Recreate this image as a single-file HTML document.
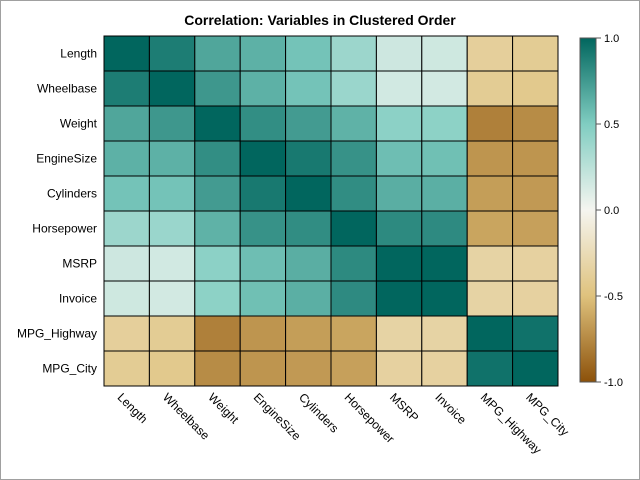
<!DOCTYPE html>
<html><head><meta charset="utf-8"><style>
body{margin:0;background:#fff;}
svg{display:block;font-family:"Liberation Sans",sans-serif;}
</style></head><body>
<svg id="chart" width="640" height="480">
<defs>
<linearGradient id="cgrad" x1="0" y1="1" x2="0" y2="0">
<stop offset="0" stop-color="#8c510a"/>
<stop offset="0.25" stop-color="#dfc27d"/>
<stop offset="0.5" stop-color="#f5f5f0"/>
<stop offset="0.75" stop-color="#80cdc1"/>
<stop offset="1" stop-color="#01665e"/>
</linearGradient>
</defs>
<rect x="0.5" y="0.5" width="639" height="479" fill="#fff" stroke="#a0a0a0"/>
<text x="320" y="25" text-anchor="middle" font-size="14" font-weight="bold">Correlation: Variables in Clustered Order</text>
<g id="cells"></g>
<g id="ylabels"></g>
<g id="xlabels"></g>
<rect x="580" y="38" width="16" height="344" fill="url(#cgrad)" stroke="#555"/>
<g id="legticks"></g>
</svg>
<script>
const vars=["Length","Wheelbase","Weight","EngineSize","Cylinders","Horsepower","MSRP","Invoice","MPG_Highway","MPG_City"];
const rowLength=[1,0.889,0.690,0.637,0.547,0.382,0.172,0.166,-0.37,-0.40];
const rowWheelbase=[0.889,1,0.761,0.637,0.547,0.387,0.152,0.148,-0.40,-0.43];
const rowWeight=[0.690,0.761,1,0.807,0.742,0.631,0.450,0.443,-0.79,-0.74];
const rowEngineSize=[0.637,0.637,0.807,1,0.908,0.787,0.572,0.564,-0.70,-0.70];
const rowCylinders=[0.547,0.547,0.742,0.908,1,0.811,0.649,0.645,-0.66,-0.68];
const rowHorsepower=[0.382,0.387,0.631,0.787,0.811,1,0.826,0.824,-0.63,-0.65];
const rowMSRP=[0.172,0.152,0.450,0.572,0.649,0.826,1,0.999,-0.33,-0.35];
const rowInvoice=[0.166,0.148,0.443,0.564,0.645,0.824,0.999,1,-0.33,-0.35];
const rowMPGHighway=[-0.37,-0.40,-0.79,-0.70,-0.66,-0.63,-0.33,-0.33,1,0.941];
const rowMPGCity=[-0.40,-0.43,-0.74,-0.70,-0.68,-0.65,-0.35,-0.35,0.941,1];
const matrix=[rowLength,rowWheelbase,rowWeight,rowEngineSize,rowCylinders,rowHorsepower,rowMSRP,rowInvoice,rowMPGHighway,rowMPGCity];
const legendTicks=[1.0,0.5,0.0,-0.5,-1.0];

const NS="http://www.w3.org/2000/svg";
const gx0=104,gx1=558,gy0=36,gy1=386;
const cw=(gx1-gx0)/vars.length,ch=(gy1-gy0)/vars.length;
const xPos=i=>gx0+i*cw, yPos=j=>gy0+j*ch;
const legY=v=>38+(1-v)/2*344;
const stops=[[-1,[140,81,10]],[-0.5,[223,194,125]],[0,[245,245,240]],[0.5,[128,205,193]],[1,[1,102,94]]];
function color(v){
 for(let k=0;k<stops.length-1;k++){
  const a=stops[k],b=stops[k+1];
  if(v<=b[0]){const t=(v-a[0])/(b[0]-a[0]);
   return "rgb("+a[1].map((c,i)=>Math.round(c+(b[1][i]-c)*t)).join(",")+")";}
 }
 return "rgb(1,102,94)";
}
function mk(tag,attrs,parent){const e=document.createElementNS(NS,tag);for(const k in attrs)e.setAttribute(k,attrs[k]);parent.appendChild(e);return e;}
const cells=document.getElementById("cells");
matrix.forEach((row,j)=>row.forEach((v,i)=>{
 const r=mk("rect",{x:xPos(i),y:yPos(j),width:cw,height:ch,fill:color(v),stroke:"#000","stroke-width":1},cells);
 
 
}));
const yl=document.getElementById("ylabels");
vars.forEach((n,j)=>{
 const t=mk("text",{x:gx0-7,y:yPos(j)+ch/2+4,"text-anchor":"end","font-size":12},yl);
 t.textContent=n;
 
 
});
const xl=document.getElementById("xlabels");
vars.forEach((n,i)=>{
 const x=xPos(i)+cw/2-10,y=gy1+12;
 const t=mk("text",{x:x,y:y,"font-size":12,transform:"rotate(45 "+x+" "+y+")"},xl);
 t.textContent=n;
 
 
});
const lt=document.getElementById("legticks");
legendTicks.forEach(v=>{
 const y=legY(v);
 const l=mk("line",{x1:596,x2:601,y1:y,y2:y,stroke:"#555"},lt);
 
 
 const t=mk("text",{x:604,y:y+4,"font-size":11},lt);
 t.textContent=v.toFixed(1);
 
 
});
</script>
</body></html>
